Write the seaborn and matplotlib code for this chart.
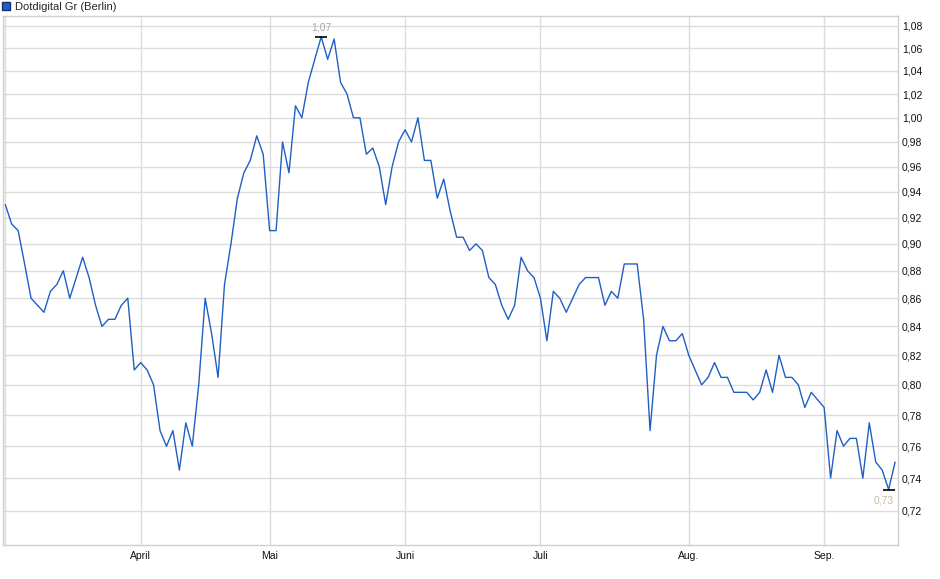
import matplotlib
matplotlib.use('Agg')
import matplotlib.pyplot as plt
import matplotlib.ticker as mticker
from matplotlib.patches import Patch
import seaborn as sns
import pandas as pd
import numpy as np

# Schlusskurse (EUR), je Handelstag
kurs = [
    0.93, 0.915, 0.91, 0.885, 0.86, 0.855, 0.85, 0.865, 0.87, 0.88,
    0.86, 0.875, 0.89, 0.875, 0.855, 0.84, 0.845, 0.845, 0.855, 0.86,
    0.81, 0.815, 0.81, 0.80, 0.77, 0.76, 0.77, 0.745, 0.775, 0.76,
    0.80, 0.86, 0.835, 0.805,
    0.87, 0.90, 0.935, 0.955, 0.965, 0.985, 0.97, 0.91, 0.91, 0.98,
    0.955, 1.01, 1.00, 1.03, 1.05, 1.07, 1.05, 1.068, 1.03, 1.02,
    1.00, 1.00, 0.97, 0.975, 0.96, 0.93, 0.96, 0.98, 0.99, 0.98,
    1.00, 0.965,
    0.965, 0.935, 0.95, 0.925, 0.905, 0.905, 0.895, 0.90, 0.895, 0.875,
    0.87, 0.855, 0.845, 0.855, 0.89, 0.88, 0.875, 0.86, 0.83, 0.865,
    0.86, 0.85, 0.86, 0.87, 0.875, 0.875, 0.875, 0.855, 0.865, 0.86,
    0.885, 0.885, 0.885, 0.845, 0.77, 0.82,
    0.84, 0.83, 0.83, 0.835, 0.82, 0.81, 0.80, 0.805, 0.815, 0.805,
    0.805, 0.795, 0.795, 0.795, 0.79, 0.795, 0.81, 0.795, 0.82, 0.805,
    0.805, 0.80, 0.785, 0.795, 0.79, 0.785, 0.74, 0.77, 0.76, 0.765,
    0.765, 0.74, 0.775, 0.75, 0.745, 0.733, 0.75,
]

# erster Handelstag je Monat (Index in kurs)
monat_start = [0, 21, 41, 62, 83, 106, 127]
monat_labels = ['', 'April', 'Mai', 'Juni', 'Juli', 'Aug.', 'Sep.']

y_ticks = [0.72, 0.74, 0.76, 0.78, 0.80, 0.82, 0.84, 0.86, 0.88, 0.90,
           0.92, 0.94, 0.96, 0.98, 1.00, 1.02, 1.04, 1.06, 1.08]

titel = 'Dotdigital Gr (Berlin)'

sns.set_style('white')
plt.rcParams['font.family'] = ['Liberation Sans', 'DejaVu Sans']

linie = '#1f5fc4'
gitter = '#dcdcdc'

fig = plt.figure(figsize=(9.4, 5.79), dpi=100)
ax = fig.add_axes([2.7 / 940, 34 / 579, 895.6 / 940, 529.3 / 579])

df = pd.DataFrame({'tag': np.arange(len(kurs)), 'kurs': kurs})
sns.lineplot(data=df, x='tag', y='kurs', ax=ax, color=linie, linewidth=1.0)

ax.set_yscale('log')
ax.set_ylim(0.6998, 1.089)
ax.set_xlim(-0.4, 138.5)

ax.yaxis.set_major_locator(mticker.FixedLocator(y_ticks))
ax.yaxis.set_minor_locator(mticker.NullLocator())
ax.yaxis.set_major_formatter(
    mticker.FuncFormatter(lambda v, p: f'{v:.2f}'.replace('.', ',')))
ax.yaxis.tick_right()
ax.set_xticks(monat_start)
ax.set_xticklabels(monat_labels)

ax.set_xlabel('')
ax.set_ylabel('')
ax.grid(True, color=gitter, linewidth=1.0)
ax.set_axisbelow(True)
for s in ax.spines.values():
    s.set_color('#cfcfcf')
    s.set_linewidth(1.0)

ax.tick_params(axis='x', length=2.5, pad=1.5, color='#cfcfcf',
               labelsize=7.5, labelcolor='#111111')
ax.tick_params(axis='y', length=0, pad=2.5, labelsize=7.5,
               labelcolor='#111111')

# Hoch / Tief markieren
i_max = int(np.argmax(kurs))
i_min = int(np.argmin(kurs))
for i, dy, dx, farbe in [(i_max, 7, 0, '#a9a6a4'), (i_min, -7.6, -3.6, '#c9b9a6')]:
    ax.plot(i, kurs[i], marker='_', markersize=9, markeredgewidth=1.2,
            color='black', zorder=5)
    ax.annotate(f'{kurs[i]:.2f}'.replace('.', ','), (i, kurs[i]),
                xytext=(dx, dy), textcoords='offset points',
                ha='center', va='center', fontsize=7.5, color=farbe)

fig.legend(handles=[Patch(facecolor=linie, edgecolor='#1a2e6e', label=titel)],
           loc='upper left', bbox_to_anchor=(0.0, 1.0), frameon=False,
           borderpad=0.15, borderaxespad=0.0, handlelength=0.75,
           handleheight=0.75, handletextpad=0.45, fontsize=8)

fig.savefig('out.png', dpi=100)
plt.close()
